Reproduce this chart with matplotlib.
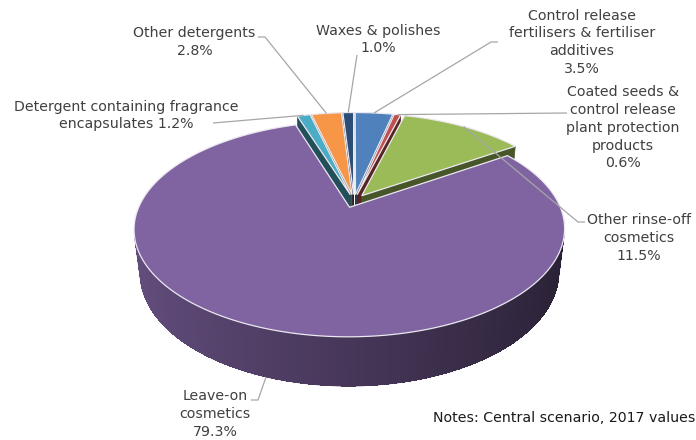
import numpy as np
import matplotlib
matplotlib.use("Agg")
import matplotlib.pyplot as plt
from matplotlib.patches import Polygon
import matplotlib.colors as mcolors

# ---------------- data ----------------
categories = ["Control release\nfertilisers & fertiliser\nadditives",
              "Coated seeds &\ncontrol release\nplant protection\nproducts",
              "Other rinse-off\ncosmetics",
              "Leave-on\ncosmetics",
              "Detergent containing fragrance\nencapsulates",
              "Other detergents",
              "Waxes & polishes"]
values = [3.5, 0.6, 11.5, 79.3, 1.2, 2.8, 1.0]
value_sep = ["\n", "\n", "\n", "\n", " ", "\n", "\n"]
colors = ["#4F81BD", "#C0504D", "#9BBB59", "#8064A2", "#4BACC6", "#F79646", "#2C4D75"]
note = "Notes: Central scenario, 2017 values"

# ---------------- layout (pixels) ----------------
label_x = [582, 623, 639, 215, 126, 194.5, 378.5]
label_y0 = [15, 92, 220, 396, 106, 33, 30]
line_step = 17.7
leader_pts = [[(498, 42), (491, 42)], [(567, 113)], [(585, 222), (578, 222)],
              [(251, 400), (258, 400)], [(213, 123)], [(258, 37), (265, 37)], [(357, 55)]]
anchor_bottom = [False, False, False, True, False, False, False]

W, Hpx = 696, 440
fig = plt.figure(figsize=(W / 100, Hpx / 100), dpi=100)
ax = fig.add_axes([0, 0, 1, 1])
ax.set_xlim(0, W)
ax.set_ylim(Hpx, 0)
ax.axis("off")

# ---------------- 3D projection ----------------
S = 0.484
C = np.sqrt(1 - S * S)
DIST = 4.375
FOC = 911.0
THICK = 0.24
EXPL = 0.065
X0, Y0 = 354.0, 201.0
cam = np.array([0.0, -DIST * C, DIST * S])


def proj(X, Y, Z):
    X = np.asarray(X, float)
    Y = np.asarray(Y, float)
    Z = np.asarray(Z, float)
    depth = DIST + Y * C - Z * S
    sx = FOC * X / depth
    sy = FOC * (Y * S + Z * C) / depth
    return X0 + sx, Y0 - sy


def shade(col, f):
    r, g, b = mcolors.to_rgb(col)
    return (min(r * f, 1), min(g * f, 1), min(b * f, 1))


def side_factor(t):
    return 0.55 - 0.23 * np.sin(t)


vals = np.array(values, float)
fr = vals / vals.sum()
ends = np.cumsum(fr) * 2 * np.pi
starts = ends - fr * 2 * np.pi

walls = []   # (distance, kind, polygon, colour, strips)
tops = []
slice_info = []
for i in range(len(vals)):
    t1, t2 = starts[i], ends[i]
    tm = 0.5 * (t1 + t2)
    ox, oy = EXPL * np.sin(tm), EXPL * np.cos(tm)
    slice_info.append((ox, oy, tm))
    n = max(2, int(np.degrees(t2 - t1) / 1.0))
    th = np.linspace(t1, t2, n + 1)
    # top face
    X = np.concatenate([[ox], ox + np.sin(th)])
    Y = np.concatenate([[oy], oy + np.cos(th)])
    px, py = proj(X, Y, np.zeros_like(X))
    tops.append((np.column_stack([px, py]), colors[i]))
    # outer side strips (visible runs)
    vis = []
    for a, b in zip(th[:-1], th[1:]):
        m = 0.5 * (a + b)
        nrm = np.array([np.sin(m), np.cos(m), 0.0])
        p = np.array([ox + np.sin(m), oy + np.cos(m), -THICK / 2])
        vis.append(np.dot(cam - p, nrm) > 0)
    runs = []
    cur = None
    for k, v in enumerate(vis):
        if v:
            if cur is None:
                cur = [k, k]
            else:
                cur[1] = k
        else:
            if cur is not None:
                runs.append(cur)
                cur = None
    if cur is not None:
        runs.append(cur)
    for k0, k1 in runs:
        ta = th[k0:k1 + 2]
        xs = np.concatenate([ox + np.sin(ta), ox + np.sin(ta[::-1])])
        ys = np.concatenate([oy + np.cos(ta), oy + np.cos(ta[::-1])])
        zs = np.concatenate([np.zeros(len(ta)), -THICK * np.ones(len(ta))])
        qx, qy = proj(xs, ys, zs)
        m = 0.5 * (ta[0] + ta[-1])
        p = np.array([ox + np.sin(m), oy + np.cos(m), -THICK / 2])
        strips = []
        for a, b in zip(ta[:-1], ta[1:]):
            mm = 0.5 * (a + b)
            sx_ = [ox + np.sin(a), ox + np.sin(b), ox + np.sin(b), ox + np.sin(a)]
            sy_ = [oy + np.cos(a), oy + np.cos(b), oy + np.cos(b), oy + np.cos(a)]
            sz_ = [0, 0, -THICK, -THICK]
            rx, ry = proj(sx_, sy_, sz_)
            strips.append((np.column_stack([rx, ry]), shade(colors[i], side_factor(mm))))
        walls.append((np.linalg.norm(cam - p), "side", np.column_stack([qx, qy]),
                      shade(colors[i], side_factor(m)), strips))
    # radial walls
    for t, nrm in ((t1, np.array([-np.cos(t1), np.sin(t1), 0.0])),
                   (t2, np.array([np.cos(t2), -np.sin(t2), 0.0]))):
        p = np.array([ox + 0.5 * np.sin(t), oy + 0.5 * np.cos(t), -THICK / 2])
        if np.dot(cam - p, nrm) <= 0:
            continue
        xs = [ox, ox + np.sin(t), ox + np.sin(t), ox]
        ys = [oy, oy + np.cos(t), oy + np.cos(t), oy]
        zs = [0, 0, -THICK, -THICK]
        qx, qy = proj(xs, ys, zs)
        walls.append((np.linalg.norm(cam - p), "wall", np.column_stack([qx, qy]),
                      shade(colors[i], 0.46), None))

walls.sort(key=lambda w: -w[0])
for _, kind, poly, col, strips in walls:
    ax.add_patch(Polygon(poly, closed=True, facecolor=col, edgecolor=col, lw=0.5, zorder=2))
    if strips:
        for sp, sc in strips:
            ax.add_patch(Polygon(sp, closed=True, facecolor=sc, edgecolor="none", lw=0,
                                 antialiased=False, zorder=2))
for poly, col in tops:
    ax.add_patch(Polygon(poly, closed=True, facecolor=col, edgecolor="#ebe8f0", lw=0.9, zorder=3))

# ---------------- labels & leaders ----------------
txt_col = "#404040"
for i in range(len(vals)):
    ox, oy, tm = slice_info[i]
    z = -THICK if anchor_bottom[i] else 0.0
    axx, ayy = proj(ox + np.sin(tm), oy + np.cos(tm), z)
    pts = leader_pts[i] + [(float(axx), float(ayy))]
    ax.plot([p[0] for p in pts], [p[1] for p in pts], color="#a6a6a6", lw=0.9, zorder=4,
            solid_capstyle="butt")
    text = categories[i] + value_sep[i] + f"{values[i]:.1f}%"
    for j, line in enumerate(text.split("\n")):
        ax.text(label_x[i], label_y0[i] + j * line_step + 4.5, line, ha="center", va="baseline",
                fontsize=10.2, color=txt_col, family="DejaVu Sans", zorder=5)

ax.text(695, 418 + 4.5, note, ha="right", va="baseline", fontsize=10.2, color="#1a1a1a",
        family="DejaVu Sans", zorder=5)

fig.savefig("out.png", dpi=100)
